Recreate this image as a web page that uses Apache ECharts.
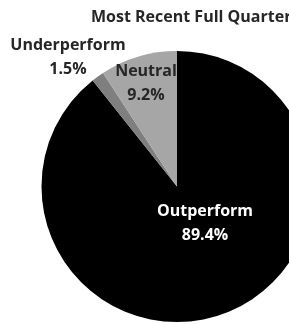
<!DOCTYPE html>
<html>
<head>
<meta charset="utf-8">
<script src="https://cdn.jsdelivr.net/npm/echarts@6/dist/echarts.min.js"></script>
<style>
  html, body { margin: 0; padding: 0; background: #fff; }
  #chart { width: 289px; height: 324px; }
</style>
</head>
<body>
<div id="chart"></div>
<script>
// slices in clockwise order from 12 o'clock
const categories = ['Outperform', 'Underperform', 'Neutral']
const values = [89.4, 1.5, 9.2]
const titleText = 'Most Recent Full Quarter'

const sliceColors = ['#000000', '#7f7f7f', '#a6a6a6']
const labelColors = ['#ffffff', '#262626', '#262626']
const labelSpots = [[205, 223], [68, 57], [146, 83]]

const chart = echarts.init(document.getElementById('chart'))

chart.setOption({
  animation: false,
  backgroundColor: '#fff',
  title: {
    text: titleText,
    left: 86,
    top: 4,
    textStyle: { fontFamily: 'Open Sans', fontWeight: 'bold', fontSize: 16, color: '#262626' },
  },
  series: [
    {
      type: 'pie',
      center: [177, 186.5],
      radius: 135.5,
      startAngle: 90,
      clockwise: true,
      label: {
        show: true,
        position: 'inside',
        formatter: (p) => `${p.name}\n${p.value}%`,
        fontFamily: 'Open Sans',
        fontWeight: 'bold',
        fontSize: 16,
        lineHeight: 24,
      },
      labelLine: { show: false },
      labelLayout: (params) => ({
        x: labelSpots[params.dataIndex][0],
        y: labelSpots[params.dataIndex][1],
        align: 'center',
        verticalAlign: 'middle',
      }),
      emphasis: { disabled: true },
      data: categories.map((name, i) => ({
        name,
        value: values[i],
        itemStyle: { color: sliceColors[i] },
        label: { color: labelColors[i] },
      })),
    },
  ],
})
</script>
</body>
</html>
